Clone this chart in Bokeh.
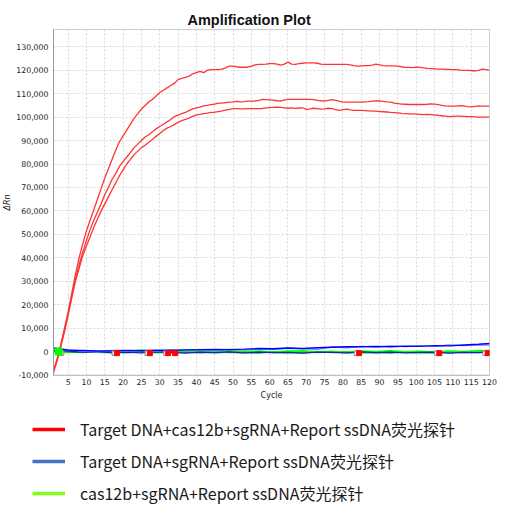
import numpy as np
from bokeh.plotting import figure
from bokeh.models import FixedTicker, NumeralTickFormatter, Legend, LegendItem, Range1d
from bokeh.embed import file_html
from bokeh.resources import INLINE

# ---------------- data (ΔRn in thousands) ----------------
cycles = list(range(1, 121))

red_top = [
    -8.5, -3, 3, 10, 17, 25, 33, 40, 46, 51.5,
    56, 60.5, 65, 69.5, 74, 78, 82, 86, 89.5, 92,
    94.5, 97, 99.5, 101.5, 103.5, 105, 106.5, 107.5, 109, 110.5,
    111.5, 112.5, 113.5, 114.5, 116, 116.5, 117, 117.5, 118.5, 119,
    119.5, 119, 120, 120.3, 120.3, 120.3, 120.5, 121, 121.8, 121.8,
    121.5, 121.3, 121.3, 121.3, 121.8, 122.3, 122.5, 122.5, 122.6, 122.8,
    122.8, 122.6, 122.2, 122.6, 123.5, 122.6, 122.5, 122.8, 123, 123.2,
    123.2, 123.2, 123, 122.6, 122.5, 122.5, 122.5, 122.5, 122.5, 122.5,
    122.5, 122.3, 122, 121.8, 121.9, 122, 122, 122.2, 122.6, 122.3,
    122, 121.9, 121.9, 121.9, 121.8, 121.5, 121.2, 121.2, 121.1, 121.3,
    121.2, 121, 120.8, 120.7, 120.6, 120.5, 120.5, 120.4, 120.4, 120.3,
    120.3, 120.1, 120, 120, 119.9, 119.7, 120, 120.5, 120.3, 120,
]

red_mid = [
    -8.5, -3.5, 2.5, 9, 16, 23.5, 31, 37, 42.5, 47.5,
    52, 56, 59.5, 63, 67, 70, 73.5, 76, 79, 81,
    83, 85, 87, 88.5, 90, 91.5, 92.5, 93.8, 95, 96,
    97, 98, 99, 100.3, 100.8, 101.5, 102, 102.8, 103.5, 104,
    104.3, 104.8, 105, 105.3, 105.6, 106, 106, 106.2, 106.4, 106.5,
    106.7, 106.5, 106.6, 106.8, 106.8, 106.9, 107.2, 107.6, 107.5, 107.4,
    107.3, 107, 106.9, 107.3, 107.6, 107.6, 107.6, 107.6, 107.6, 107.6,
    107.6, 107.5, 107.2, 107, 106.9, 107.2, 107.5, 107.2, 106.8, 106.5,
    106.4, 106.4, 106.4, 106.4, 106.4, 106.5, 106.6, 106.8, 106.9, 106.9,
    106.7, 106.5, 106.4, 106, 105.8, 105.6, 105.5, 105.4, 105.4, 105.4,
    105.4, 105.4, 105.5, 105.7, 105.6, 105.3, 105, 104.8, 104.7, 104.7,
    104.7, 104.9, 104.8, 104.5, 104.4, 104.6, 104.8, 104.7, 104.7, 104.7,
]

red_low = [
    -9, -4, 2, 8.5, 15.5, 23, 30, 35.5, 41, 45,
    49, 53, 56.5, 60, 63, 66, 69, 72, 75, 77.5,
    80, 82, 84, 85.5, 87, 88, 89.3, 90.5, 91.8, 93,
    94.3, 95.3, 96, 96.8, 97.8, 98.5, 99, 99.6, 100.3, 101,
    101.2, 101.5, 101.7, 102, 102.1, 102.4, 102.7, 103, 103.3, 103.6,
    103.6, 103.5, 103.5, 103.6, 103.6, 103.6, 103.6, 103.7, 104, 104.1,
    104.2, 104.3, 104.2, 104, 103.8, 104, 103.7, 103.9, 104, 103.3,
    103.5, 103.8, 103.6, 103.4, 103.5, 103.8, 103.6, 103.2, 102.9, 103.2,
    103.4, 103.1, 102.9, 102.9, 102.9, 102.8, 102.7, 102.6, 102.6, 102.4,
    102.3, 102.2, 102, 101.9, 101.8, 101.6, 101.5, 101.4, 101.4, 101.3,
    101.2, 101.1, 101.2, 101.1, 100.9, 100.8, 100.6, 100.4, 100.2, 100.3,
    100.4, 100.4, 100.3, 100.2, 100.2, 100.1, 100, 100, 100, 100,
]

base_cycles = [1, 5, 9, 13, 17, 21, 25, 29, 33, 37, 41, 45, 49, 53, 57, 61,
               65, 69, 73, 77, 81, 85, 89, 93, 97, 101, 105, 109, 113, 117, 120]

blue_1 = [1.5, 0.6, 0.4, 0.2, 0.3, 0.5, 0.3, 0.6, 0.4, 0.7, 0.8, 0.9, 0.8, 1.0, 1.3, 1.2,
          1.5, 1.3, 1.6, 1.8, 2.0, 2.0, 2.2, 2.0, 2.3, 2.2, 2.5, 2.4, 2.8, 3.1, 3.4]
blue_2 = [1.2, 0.8, 0.2, -0.2, 0.5, 0.1, 0.6, 0.2, 0.8, 0.4, 0.6, 0.3, 0.9, 0.6, 1.1, 0.8,
          1.4, 1.1, 0.9, 1.9, 1.6, 2.2, 1.8, 2.4, 2.1, 2.5, 2.2, 2.8, 2.5, 2.7, 2.8]
blue_3 = [0.3, 0.2, -0.3, -0.2, -0.5, -0.3, -0.6, -0.2, -0.4, -0.7, -0.3, -0.5, -0.2, -0.6, -0.3, -0.5,
          -0.4, -0.7, -0.3, -0.4, -0.6, -0.2, -0.5, -0.3, -0.6, -0.4, -0.3, -0.7, -0.4, -0.5, -0.2]
green_1 = [0, 0.3, 0.1, -0.2, 0.2, -0.1, 0.4, -0.3, 0, 0.3, 0, -0.2, 0.2, -0.1, 0.1, -0.3,
           0.1, 0.2, -0.2, 0, -0.4, 0.1, -0.1, 0.2, -0.2, 0, -0.3, 0.1, -0.1, 0.2, 0.3]
green_2 = [-0.3, -0.5, 0.2, -0.4, -0.6, 0.3, -0.2, -0.7, -0.3, 0.1, -0.5, -0.8, -0.2, -0.6, 0, -0.4,
           -0.9, -0.3, -0.5, -0.1, -0.7, -0.4, -0.8, -0.2, -0.5, -0.9, -0.3, -0.6, -0.2, -0.5, -0.4]
green_3 = [0.2, -0.2, -0.5, 0, -0.3, -0.6, -0.1, 0.1, -0.4, -0.2, -0.6, 0, -0.4, -0.3, -0.7, -0.1,
           -0.3, -0.6, 0, -0.5, -0.2, -0.6, -0.3, -0.7, -0.1, -0.4, -0.6, -0.2, -0.5, -0.3, -0.1]

red_marker_x = [18.3, 27.3, 32.3, 34.2, 84.4, 106.3, 119.5]
grey_marker_x = [3.2, 17.6, 26.6, 31.7, 83.7, 105.6, 118.8]
marker_y = -0.7
green_marker_x = [2.4]
green_marker_y = [0.0]

x_ticks = list(range(5, 121, 5))
y_ticks = list(range(-10000, 130001, 10000))

legend_labels = [
    "Target DNA+cas12b+sgRNA+Report ssDNA荧光探针",
    "Target DNA+sgRNA+Report ssDNA荧光探针",
    "cas12b+sgRNA+Report ssDNA荧光探针",
]
legend_colors = ["#ff0000", "#4472c4", "#7fff1e"]

K = 1000.0

# ---------------- chart ----------------
p = figure(width=500, height=405,
           x_range=Range1d(1, 120), y_range=Range1d(-10240, 137400),
           output_backend="svg", toolbar_location=None,
           min_border_left=46, min_border_right=11,
           min_border_top=29, min_border_bottom=30)

p.title.text = "Amplification Plot"
p.title.align = "left"
p.title.offset = 134
p.title.standoff = 4
p.title.text_font = "Liberation Sans"
p.title.text_font_style = "bold"
p.title.text_font_size = "14.5px"
p.title.text_color = "#111111"

for ax in (p.xaxis, p.yaxis):
    ax.major_tick_out = 0
    ax.major_tick_in = 0
    ax.minor_tick_out = 0
    ax.minor_tick_in = 0
    ax.major_label_text_font = "DejaVu Sans"
    ax.major_label_text_font_size = "7.8px"
    ax.major_label_text_color = "#222222"
    ax.axis_label_text_font = "DejaVu Sans"
    ax.axis_label_text_font_size = "8px"
    ax.axis_label_text_color = "#222222"

p.xaxis.ticker = FixedTicker(ticks=x_ticks)
p.yaxis.ticker = FixedTicker(ticks=y_ticks)
p.yaxis.formatter = NumeralTickFormatter(format="0,0")
p.xaxis.axis_label = "Cycle"
p.xaxis.axis_label_text_font_style = "normal"
p.xaxis.major_label_standoff = 3
p.xaxis.axis_label_standoff = 3
p.yaxis.axis_label = "ΔRn"
p.yaxis.axis_label_text_font_style = "italic"
p.yaxis.major_label_standoff = 5
p.yaxis.axis_label_standoff = 1
p.yaxis.axis_line_color = "#9a9a9a"
p.xaxis.axis_line_color = "#c0c0c0"

p.xgrid.ticker = FixedTicker(ticks=x_ticks)
p.ygrid.ticker = FixedTicker(ticks=y_ticks)
p.grid.grid_line_color = "#d8d8d8"
p.grid.grid_line_dash = "2 2"
p.outline_line_color = "#cccccc"

bx = np.array(base_cycles)
p.line(bx, np.array(green_2) * K, color="#8cff8c", line_width=1.6)
p.line(bx, np.array(green_3) * K, color="#00b400", line_width=1.4)
p.line(bx, np.array(green_1) * K, color="#00ff00", line_width=2.0)
p.line(bx, np.array(blue_3) * K, color="#1a1acc", line_width=1.3)
p.line(bx, np.array(blue_2) * K, color="#8080ff", line_width=1.4)
p.line(bx, np.array(blue_1) * K, color="#0000ff", line_width=1.4)

cx = np.array(cycles)
for series in (red_top, red_mid, red_low):
    p.line(cx, np.array(series) * K, color="#ff3535", line_width=1.3)

p.scatter(grey_marker_x, [marker_y * K] * len(grey_marker_x), marker="square", size=4.5,
          fill_color="#ffffff", line_color="#888888", line_width=1)
p.scatter(red_marker_x, [marker_y * K] * len(red_marker_x), marker="square", size=5,
          fill_color="#ff0000", line_color="#ff0000")
p.scatter(green_marker_x, np.array(green_marker_y) * K, marker="square", size=7,
          fill_color="#00ff00", line_color="#00ff00")

# ---------------- legend panel (separate root, below the chart) ----------------
p2 = figure(width=500, height=100, output_backend="svg", toolbar_location=None,
            x_range=Range1d(0, 1), y_range=Range1d(0, 1),
            x_axis_location=None, y_axis_location=None, min_border=0)
p2.title.visible = False
p2.grid.visible = False
p2.outline_line_color = None

items = []
for lab, col in zip(legend_labels, legend_colors):
    # legend-only renderer: one undefined point, nothing drawn in the frame
    r = p2.line([0.5], [np.nan], color=col, line_width=3.5)
    items.append(LegendItem(label=lab, renderers=[r]))

leg = Legend(items=items, location=(32, 0), orientation="vertical",
             glyph_width=33, glyph_height=20, label_height=20, spacing=8,
             padding=0, margin=0, border_line_color=None, background_fill_alpha=0,
             label_standoff=15, label_text_font="Noto Sans CJK SC",
             label_text_font_size="16px", label_text_color="#1a1a1a")
p2.add_layout(leg, "center")

open("out.html", "w").write(file_html([p, p2], INLINE))
